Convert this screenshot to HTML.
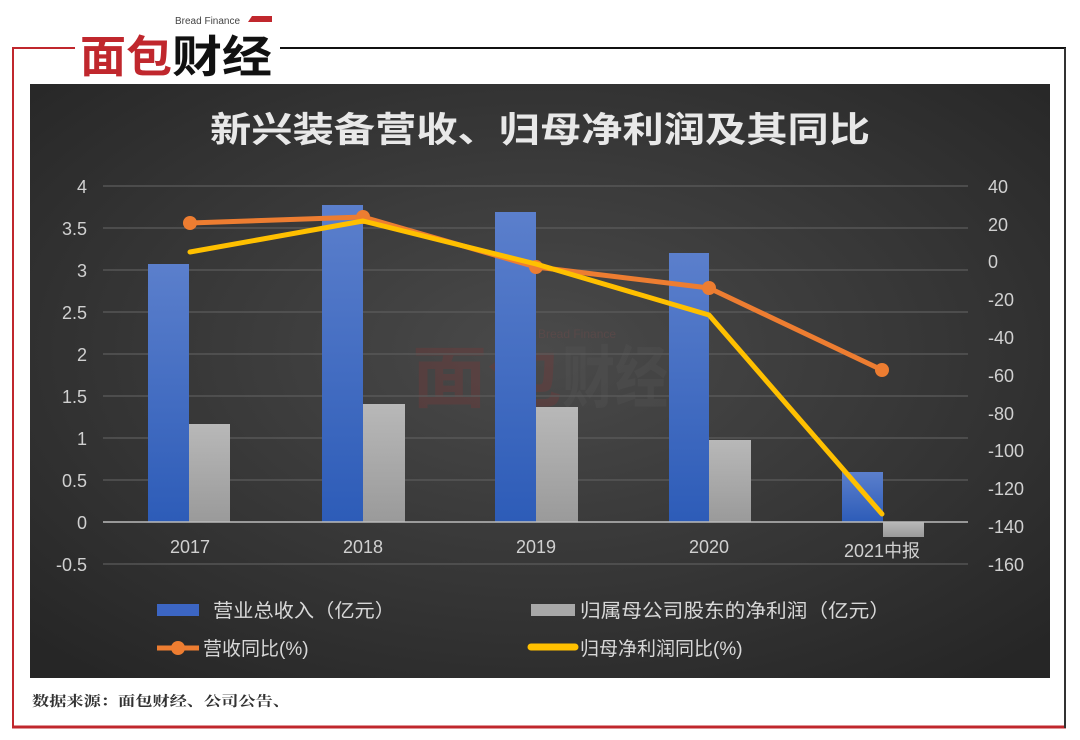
<!DOCTYPE html>
<html><head><meta charset="utf-8"><style>
body{margin:0;width:1080px;height:740px;background:#fff;overflow:hidden;font-family:"Liberation Sans","Noto Sans CJK SC",sans-serif}
</style></head><body>
<svg width="1080" height="740" xmlns="http://www.w3.org/2000/svg" style="position:absolute;left:0;top:0">
<defs>
<radialGradient id="bg" cx="0.5" cy="0.45" r="0.7">
<stop offset="0" stop-color="#4a4a4a"/><stop offset="1" stop-color="#262626"/></radialGradient>
<linearGradient id="bl" x1="0" y1="0" x2="0" y2="1"><stop offset="0" stop-color="#5b7fcc"/><stop offset="1" stop-color="#2d5cb8"/></linearGradient>
<linearGradient id="gr" x1="0" y1="0" x2="0" y2="1"><stop offset="0" stop-color="#b8b8b8"/><stop offset="1" stop-color="#9a9a9a"/></linearGradient>
</defs>
<line x1="13" y1="48" x2="75" y2="48" stroke="#c0272d" stroke-width="2"/>
<line x1="13" y1="47" x2="13" y2="728" stroke="#c0272d" stroke-width="2"/>
<line x1="12" y1="727" x2="1066" y2="727" stroke="#c0272d" stroke-width="3"/>
<line x1="280" y1="48" x2="1066" y2="48" stroke="#111" stroke-width="2"/>
<line x1="1065" y1="48" x2="1065" y2="728" stroke="#333" stroke-width="2"/>
<text x="175" y="24" font-size="10" fill="#444">Bread Finance</text>
<polygon points="248,22 252,16 272,16 272,22" fill="#c0272d"/>
<text x="80" y="72" font-size="44" font-weight="bold" fill="#c0272d" textLength="92" lengthAdjust="spacingAndGlyphs">面包</text>
<text x="172" y="72" font-size="44" font-weight="bold" fill="#111" textLength="100" lengthAdjust="spacingAndGlyphs">财经</text>
<rect x="30" y="84" width="1020" height="594" fill="url(#bg)"/>
<text x="210" y="142" font-size="35" fill="#e8e8e8" font-weight="bold" textLength="660" lengthAdjust="spacingAndGlyphs">新兴装备营收、归母净利润及其同比</text>
<text x="538" y="338" font-size="12" fill="#6a4a4a" opacity="0.5">Bread Finance</text>
<text x="412" y="402" font-size="68" font-weight="bold" fill="#7a3838" opacity="0.35" textLength="150" lengthAdjust="spacingAndGlyphs">面包</text>
<text x="562" y="402" font-size="68" font-weight="bold" fill="#555" opacity="0.35" textLength="106" lengthAdjust="spacingAndGlyphs">财经</text>
<g stroke="#5c5c5c" stroke-width="1.2">
<line x1="103" x2="968" y1="186" y2="186"/><line x1="103" x2="968" y1="228" y2="228"/>
<line x1="103" x2="968" y1="270" y2="270"/><line x1="103" x2="968" y1="312" y2="312"/>
<line x1="103" x2="968" y1="354" y2="354"/><line x1="103" x2="968" y1="396" y2="396"/>
<line x1="103" x2="968" y1="438" y2="438"/><line x1="103" x2="968" y1="480" y2="480"/>
<line x1="103" x2="968" y1="564" y2="564"/>
</g>
<rect x="148" y="264" width="41" height="258" fill="url(#bl)"/>
<rect x="189" y="424" width="41" height="98" fill="url(#gr)"/>
<rect x="322" y="205" width="41" height="317" fill="url(#bl)"/>
<rect x="363" y="404" width="42" height="118" fill="url(#gr)"/>
<rect x="495" y="212" width="41" height="310" fill="url(#bl)"/>
<rect x="536" y="407" width="42" height="115" fill="url(#gr)"/>
<rect x="669" y="253" width="40" height="269" fill="url(#bl)"/>
<rect x="709" y="440" width="42" height="82" fill="url(#gr)"/>
<rect x="842" y="472" width="41" height="50" fill="url(#bl)"/>
<rect x="883" y="522" width="41" height="15" fill="url(#gr)"/>
<line x1="103" x2="968" y1="522" y2="522" stroke="#bbb" stroke-width="1.5"/>
<polyline points="190,223 363,217 536,267 709,288 882,370" fill="none" stroke="#ed7d31" stroke-width="5" stroke-linejoin="round"/>
<g fill="#ed7d31"><circle cx="190" cy="223" r="7"/><circle cx="363" cy="217" r="7"/><circle cx="536" cy="267" r="7"/><circle cx="709" cy="288" r="7"/><circle cx="882" cy="370" r="7"/></g>
<polyline points="190,252 363,221 536,264 709,315 882,514" fill="none" stroke="#ffc000" stroke-width="5" stroke-linejoin="round" stroke-linecap="round"/>
<g font-size="18" fill="#d0d0d0" text-anchor="end">
<text x="87" y="193">4</text><text x="87" y="235">3.5</text><text x="87" y="277">3</text>
<text x="87" y="319">2.5</text><text x="87" y="361">2</text><text x="87" y="403">1.5</text>
<text x="87" y="445">1</text><text x="87" y="487">0.5</text><text x="87" y="529">0</text><text x="87" y="571">-0.5</text>
</g>
<g font-size="18" fill="#d0d0d0" text-anchor="start">
<text x="988" y="193">40</text><text x="988" y="231">20</text><text x="988" y="268">0</text>
<text x="988" y="306">-20</text><text x="988" y="344">-40</text><text x="988" y="382">-60</text>
<text x="988" y="420">-80</text><text x="988" y="457">-100</text><text x="988" y="495">-120</text>
<text x="988" y="533">-140</text><text x="988" y="571">-160</text>
</g>
<g font-size="18" fill="#d0d0d0" text-anchor="middle">
<text x="190" y="553">2017</text><text x="363" y="553">2018</text><text x="536" y="553">2019</text>
<text x="709" y="553">2020</text><text x="882" y="557">2021中报</text>
</g>
<rect x="157" y="604" width="42" height="12" fill="#3c66c4"/>
<text x="213" y="617" font-size="19" fill="#d8d8d8" textLength="182" lengthAdjust="spacingAndGlyphs">营业总收入（亿元）</text>
<rect x="531" y="604" width="44" height="12" fill="#a8a8a8"/>
<text x="580" y="617" font-size="19" fill="#d8d8d8" textLength="310" lengthAdjust="spacingAndGlyphs">归属母公司股东的净利润（亿元）</text>
<line x1="157" y1="648" x2="199" y2="648" stroke="#ed7d31" stroke-width="5"/>
<circle cx="178" cy="648" r="7" fill="#ed7d31"/>
<text x="203" y="655" font-size="19" fill="#d8d8d8">营收同比(%)</text>
<line x1="531" y1="647" x2="575" y2="647" stroke="#ffc000" stroke-width="7" stroke-linecap="round"/>
<text x="580" y="655" font-size="19" fill="#d8d8d8">归母净利润同比(%)</text>
<text x="32" y="706" font-size="14" font-weight="bold" fill="#333" font-family="'Noto Serif CJK SC',serif" textLength="258" lengthAdjust="spacingAndGlyphs">数据来源：面包财经、公司公告、</text>
</svg>
</body></html>
